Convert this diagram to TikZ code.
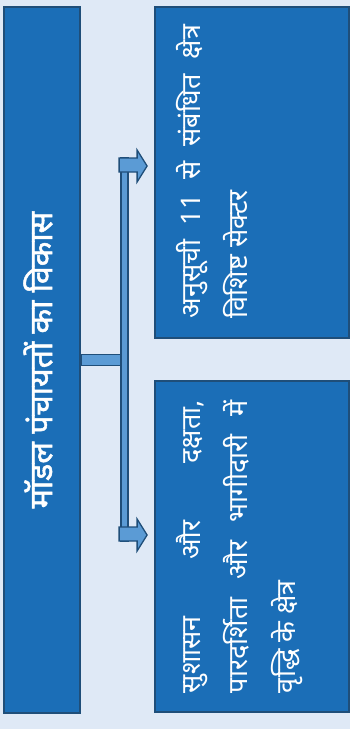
\documentclass[tikz,border=0pt]{standalone}
\usepackage{fontspec}
\newfontfamily\deva[Script=Devanagari]{Noto Sans}
\newfontfamily\devabold[Script=Devanagari,FakeBold=1.6]{Noto Sans}
\usepackage{xcolor}
\definecolor{pagebg}{HTML}{DFE9F6}
\definecolor{boxfill}{HTML}{1B6EB7}
\definecolor{boxline}{HTML}{1F4E79}
\definecolor{pipefill}{HTML}{5B9BD5}
\definecolor{pipeline}{HTML}{1F4E79}
\usetikzlibrary{calc}

\begin{document}
\begin{tikzpicture}[x=1pt,y=-1pt,
  card/.style={rectangle,draw=boxline,line width=1.8pt,fill=boxfill,inner sep=0pt},
  titletext/.style={text=white,inner sep=0pt,font=\devabold\fontsize{32}{36}\selectfont},
  bodytext/.style={text=white,inner sep=0pt,text width=293pt,align=justify,
    font=\deva\fontsize{27}{47.5}\selectfont},
  pipe/.style={draw=pipeline,line width=1.3pt,fill=pipefill,line join=miter}]
  % background
  \fill[pagebg] (0,0) rectangle (350,729);
  \useasboundingbox (0,0) rectangle (350,729);
  % boxes
  \node[card,minimum width=76pt,minimum height=706pt] (main) at (42,360) {};
  \node[card,minimum width=194pt,minimum height=331pt] (upper) at (252,172.5) {};
  \node[card,minimum width=194pt,minimum height=331pt] (lower) at (252,546.5) {};
  % texts
  \node[titletext,rotate=90] (maintitle) at ($(main.center)+(-4,0)$) {मॉडल पंचायतों का विकास};
  \node[bodytext,rotate=90,anchor=north] (uppertext) at ($(upper.west)+(22,-1)$)
    {अनुसूची 11 से संबंधित क्षेत्र\linebreak विशिष्ट सेक्टर};
  \node[bodytext,rotate=90,anchor=north] (lowertext) at ($(lower.west)+(22,0)$)
    {सुशासन और दक्षता,\linebreak पारदर्शिता और भागीदारी में\linebreak वृद्धि के क्षेत्र};
  % connector
  \coordinate (uptip) at ($(upper.west)+(-7,-6.5)$);
  \coordinate (lowtip) at ($(lower.west)+(-7,-11.5)$);
  \draw[pipe] ($(main.east)+(40,-202)$) rectangle ($(main.east)+(47,181)$);
  \draw[pipe] ($(main.east)+(0,-5.5)$) rectangle ($(main.east)+(40,5.5)$);
  \foreach \t in {uptip,lowtip}
    \draw[pipe] ($(\t)+(-28,-8)$) -- ++(18,0) -- ++(0,-8) -- (\t) -- ++(-10,16) -- ++(0,-10) -- ++(-18,0) -- cycle;
\end{tikzpicture}
\end{document}
